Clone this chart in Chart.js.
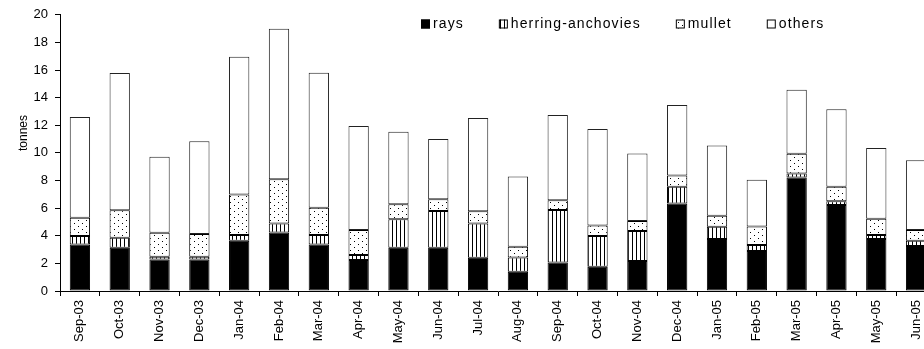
<!DOCTYPE html>
<html>
<head>
<meta charset="utf-8">
<script src="https://cdn.jsdelivr.net/npm/chart.js@4.4.1/dist/chart.umd.min.js"></script>
<style>
  html, body { margin: 0; padding: 0; background: #fff; overflow: hidden; }
  #wrap { width: 936px; height: 349px; }
</style>
</head>
<body>
<div id="wrap"><canvas id="catchChart" width="936" height="349"></canvas></div>
<script>
const months = ['Sep-03', 'Oct-03', 'Nov-03', 'Dec-03', 'Jan-04', 'Feb-04', 'Mar-04', 'Apr-04',
    'May-04', 'Jun-04', 'Jul-04', 'Aug-04', 'Sep-04', 'Oct-04', 'Nov-04', 'Dec-04',
    'Jan-05', 'Feb-05', 'Mar-05', 'Apr-05', 'May-05', 'Jun-05'];

const rays    = [3.37, 3.13, 2.29, 2.29, 3.64, 4.24, 3.37, 2.24, 3.13, 3.13, 2.41, 1.40, 2.07, 1.76, 2.17, 6.34, 3.76, 2.89, 8.22, 6.22, 3.76, 3.25];
const herring = [0.61, 0.73, 0.19, 0.19, 0.41, 0.65, 0.68, 0.36, 2.07, 2.67, 2.48, 1.03, 3.79, 2.22, 2.17, 1.20, 0.89, 0.44, 0.28, 0.28, 0.29, 0.39];
const mullet  = [1.32, 1.98, 1.74, 1.64, 2.94, 3.21, 1.97, 1.81, 1.09, 0.85, 0.89, 0.77, 0.72, 0.77, 0.72, 0.82, 0.80, 1.34, 1.43, 1.04, 1.18, 0.77];
const others  = [7.30, 9.94, 5.51, 6.72, 9.97, 10.89, 9.78, 7.54, 5.25, 4.35, 6.75, 5.09, 6.17, 6.98, 4.89, 5.11, 5.08, 3.38, 4.65, 5.62, 5.13, 5.06];

const yMin = 0, yMax = 20, yStep = 2;
const yTitle = 'tonnes';

const FONT = '"Liberation Sans", Arial, sans-serif';

// fill patterns, like the old excel hatches
function makePattern(w, h, drawFn) {
    const c = document.createElement('canvas');
    c.width = w; c.height = h;
    const g = c.getContext('2d');
    g.fillStyle = '#fff';
    g.fillRect(0, 0, w, h);
    g.fillStyle = '#000';
    drawFn(g);
    return c.getContext('2d').createPattern(c, 'repeat');
}
const stripes = makePattern(4, 4, g => g.fillRect(0, 0, 1, 4));
const dots = makePattern(8, 6, g => { g.fillRect(2, 1, 1, 1); g.fillRect(6, 4, 1, 1); });

// legend drawn inside the plot area, top right
const legendPlugin = {
    id: 'insideLegend',
    afterDraw(chart) {
        const ctx = chart.ctx;
        ctx.save();
        ctx.font = '14px ' + FONT;
        ctx.letterSpacing = '1.1px';
        ctx.textBaseline = 'middle';
        ctx.fillStyle = '#000';
        let x = 421;
        const y = 24;
        chart.data.datasets.forEach(ds => {
            ctx.fillStyle = ds.backgroundColor;
            ctx.fillRect(x, y - 4.5, 9, 9);
            ctx.strokeStyle = '#000';
            ctx.lineWidth = 1;
            ctx.strokeRect(x + 0.5, y - 4, 8, 8);
            ctx.fillStyle = '#000';
            ctx.fillText(ds.label, x + 12, y);
            x += 12 + ctx.measureText(ds.label).width + 35;
        });
        // y axis title
        ctx.letterSpacing = '0px';
        ctx.font = '12px ' + FONT;
        ctx.textAlign = 'center';
        ctx.translate(24, 133);
        ctx.rotate(-Math.PI / 2);
        ctx.fillText(yTitle, 0, 0);
        ctx.restore();
    }
};

const barStyle = {
    borderWidth: 1,
    borderSkipped: false,
    barPercentage: 0.51,
    categoryPercentage: 1
};

new Chart(document.getElementById('catchChart'), {
    type: 'bar',
    data: {
        labels: months,
        datasets: [
            { label: 'rays', data: rays, backgroundColor: '#000', borderColor: '#000', ...barStyle },
            { label: 'herring-anchovies', data: herring, backgroundColor: stripes, borderColor: '#000', ...barStyle },
            { label: 'mullet', data: mullet, backgroundColor: dots, borderColor: '#000', ...barStyle },
            { label: 'others', data: others, backgroundColor: '#fff', borderColor: '#222', ...barStyle }
        ]
    },
    options: {
        responsive: false,
        animation: false,
        events: [],
        layout: { padding: { top: 14, right: 0, bottom: 0, left: 0 } },
        plugins: { legend: { display: false }, tooltip: { enabled: false } },
        scales: {
            x: {
                stacked: true,
                grid: { display: true, drawOnChartArea: false, drawTicks: true, tickLength: 5, color: '#000', offset: true },
                border: { display: true, color: '#000', width: 1 },
                ticks: { color: '#000', font: { family: FONT, size: 13 }, maxRotation: 90, minRotation: 90, padding: 4, autoSkip: false },
                afterFit(scale) { scale.height = 58; }
            },
            y: {
                stacked: true,
                min: yMin,
                max: yMax,
                grid: { display: true, drawOnChartArea: false, drawTicks: true, tickLength: 5, color: '#000' },
                border: { display: true, color: '#000', width: 1 },
                ticks: { stepSize: yStep, color: '#000', font: { family: FONT, size: 13 }, padding: 7 },
                afterFit(scale) { scale.width = 60; }
            }
        }
    },
    plugins: [legendPlugin]
});
</script>
</body>
</html>
